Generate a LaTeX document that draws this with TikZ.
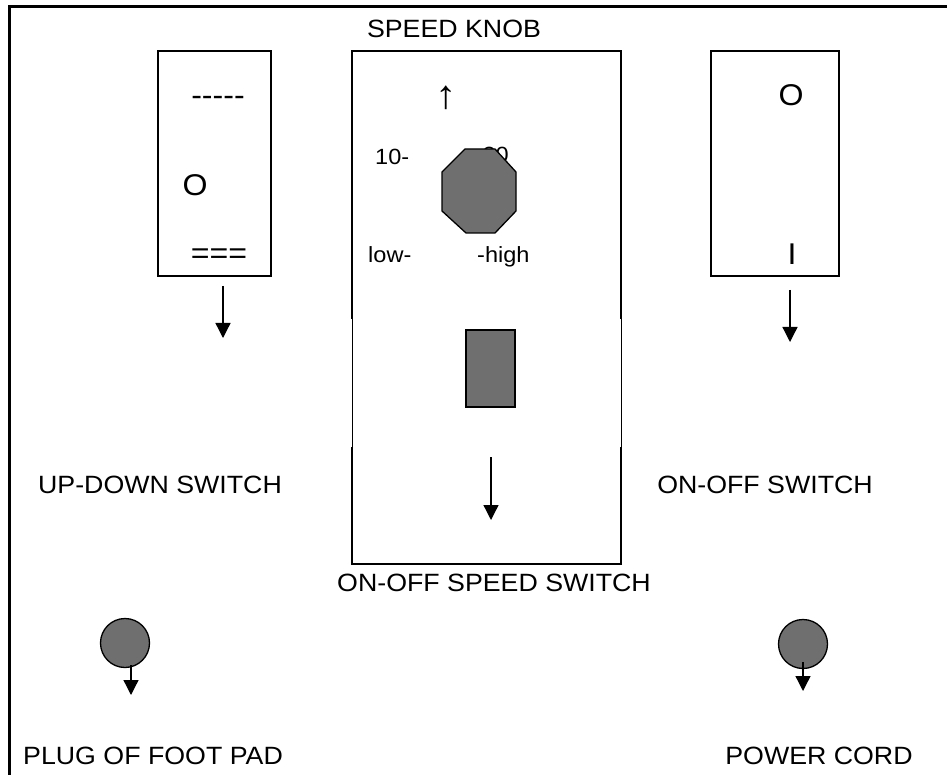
\documentclass[tikz,border=0pt]{standalone}
\usepackage{fontspec}
\setmainfont{Liberation Sans}[FakeStretch=1.07]
\usepackage{xcolor}
\usepackage{tikz}
\usetikzlibrary{arrows.meta}
\definecolor{knobgray}{HTML}{6F6F6F}

\begin{document}
\begin{tikzpicture}[x=1pt,y=-1pt,
  lbl/.style={font=\fontsize{25}{30}\selectfont,inner sep=0pt,anchor=base},
  small/.style={font=\fontsize{22}{26}\selectfont,inner sep=0pt,anchor=base west},
  boxtxt/.style={font=\fontsize{30}{36}\selectfont,inner sep=0pt},
  downarrow/.style={line width=1.3pt,-{Triangle[length=15pt,width=15pt]}},
  part/.style={draw=black,line width=1.3pt,fill=knobgray}]
\useasboundingbox (0,0) rectangle (947,775);
% outer frame (top and left only)
\draw[line width=3pt] (9.5,775) -- (9.5,6.5) -- (947,6.5);
% up-down switch
\draw[line width=1.3pt] (158,51) rectangle (271,276);
\node[boxtxt,anchor=base] (udtop) at (218,106) {-{}-{}-{}-{}-};
\node[boxtxt] (udmid) at (195,185) {O};
\node[boxtxt,anchor=base] (udbot) at (219,264) {===};
% on-off switch
\draw[line width=1.3pt] (711,51) rectangle (839,276);
\node[boxtxt] (oooff) at (791,95) {O};
\node[boxtxt] (ooon) at (792,254) {I};
% speed box, sides thinner in the middle
\draw[line width=2pt] (352,319) -- (352,51) -- (621,51) -- (621,319);
\draw[line width=2pt] (352,447) -- (352,564) -- (621,564) -- (621,447);
\draw[line width=1pt] (352,319) -- (352,447);
\draw[line width=1pt] (621,319) -- (621,447);
\node[small,anchor=center,font=\fontsize{40}{44}\selectfont] (uparrow) at (446,98) {↑};
\node[small] (lowten) at (375,165) {10-};
\node[small,anchor=base east] (hightwenty) at (509,163) {20};
\node[small] (lowtxt) at (368,263) {low-};
\node[small] (hightxt) at (477,263) {-high};
% knob and toggle
\draw[part] (465,149) -- (495,149) -- (516,172) -- (516,211) -- (495,233)
  -- (466,233) -- (442,211) -- (442,172) -- cycle;
\draw[part] (466,330) rectangle (515,407);
% plugs
\draw[part] (125,643) circle (24.5);
\draw[part] (803,644) circle (24.5);
% arrows
\coordinate (udfrom) at (223,286);   \coordinate (udto) at (223,338);
\coordinate (oofrom) at (790,290);   \coordinate (ooto) at (790,342);
\coordinate (spfrom) at (491,457);   \coordinate (spto) at (491,520);
\coordinate (padfrom) at (131,665);  \coordinate (padto) at (131,695);
\coordinate (cordfrom) at (803,662); \coordinate (cordto) at (803,691);
\foreach \a in {ud,oo,sp,pad,cord}
  \draw[downarrow] (\a from) -- (\a to);
% captions
\node[lbl] (knoblbl) at (454,38) {SPEED KNOB};
\node[lbl] (speedlbl) at (494,591) {ON-OFF SPEED SWITCH};
\node[lbl] (updownlbl) at (160,493) {UP-DOWN SWITCH};
\node[lbl] (onofflbl) at (765,493) {ON-OFF SWITCH};
\node[lbl] (padlbl) at (153,764) {PLUG OF FOOT PAD};
\node[lbl] (cordlbl) at (819,764) {POWER CORD};
\end{tikzpicture}
\end{document}
